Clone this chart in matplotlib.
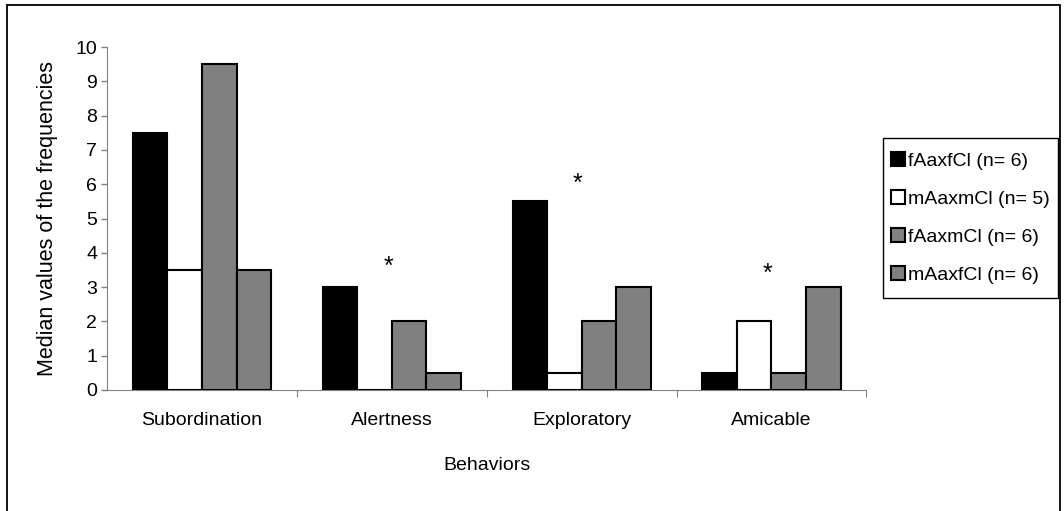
import numpy as np
import matplotlib.pyplot as plt
from matplotlib.patches import Rectangle

plt.rcParams['font.family'] = ['Liberation Sans', 'DejaVu Sans']

behaviors = ["Subordination", "Alertness", "Exploratory", "Amicable"]
groups = ["fAaxfCl (n= 6)", "mAaxmCl (n= 5)", "fAaxmCl (n= 6)", "mAaxfCl (n= 6)"]
f_f = [7.5, 3.0, 5.5, 0.5]
m_m = [3.5, 0.0, 0.5, 2.0]
f_m = [9.5, 2.0, 2.0, 0.5]
m_f = [3.5, 0.5, 3.0, 3.0]
star_y = [None, 3.6, 6.0, 3.4]

series = [f_f, m_m, f_m, m_f]
colors = ["#000000", "#ffffff", "#808080", "#808080"]

W, H = 1064, 511
fig = plt.figure(figsize=(W / 100, H / 100), dpi=100)
# outer frame (bottom edge runs off the image)
fig.patches.append(Rectangle((7 / W, -0.05), 1053 / W, 1.05 - 5 / H, transform=fig.transFigure,
                             fill=False, edgecolor="black", linewidth=1.3))
ax = fig.add_axes([0.1006, 0.2368, 0.7137, 0.6712])

x = np.arange(len(behaviors)) + 0.5
w = 0.182
for i, (vals, c) in enumerate(zip(series, colors)):
    ax.bar(x + (i - 1.5) * w, vals, width=w, color=c, edgecolor="black",
           linewidth=1.5, label=groups[i], zorder=3)

for xi, sy in zip(x, star_y):
    if sy is not None:
        ax.text(xi - 0.02, sy, "*", ha="center", va="center", fontsize=18)

ax.set_xlim(0, 4)
ax.set_ylim(0, 10)
ax.set_yticks(range(11))
ax.tick_params(axis="y", labelsize=14, length=4, color="#808080", width=1, pad=3)
ax.set_xticks([1, 2, 3, 4])
ax.set_xticklabels([])
ax.set_xticks(x, minor=True)
ax.set_xticklabels(behaviors, minor=True, fontsize=14)
ax.tick_params(axis="x", which="major", length=5, color="#808080", direction="out")
ax.tick_params(axis="x", which="minor", length=0, pad=16)
for s in ["top", "right"]:
    ax.spines[s].set_visible(False)
for s in ["left", "bottom"]:
    ax.spines[s].set_color("#808080")
ax.set_ylabel("Median values of the frequencies", fontsize=15.5, labelpad=13)
ax.set_xlabel("Behaviors", fontsize=14, labelpad=20)

# legend box drawn separately so horizontal and vertical padding can differ
fig.patches.append(Rectangle((883 / W, 1 - 298 / H), 175 / W, 160 / H, transform=fig.transFigure,
                             fill=False, edgecolor="black", linewidth=1.0))
leg = fig.legend(loc="center left", bbox_to_anchor=(889 / W, 1 - 218 / H), fontsize=14,
                 frameon=False, handlelength=0.7, handleheight=0.7, handletextpad=0.2,
                 labelspacing=1.05, borderpad=0.1, borderaxespad=0)

fig.savefig("out.png", dpi=100)
